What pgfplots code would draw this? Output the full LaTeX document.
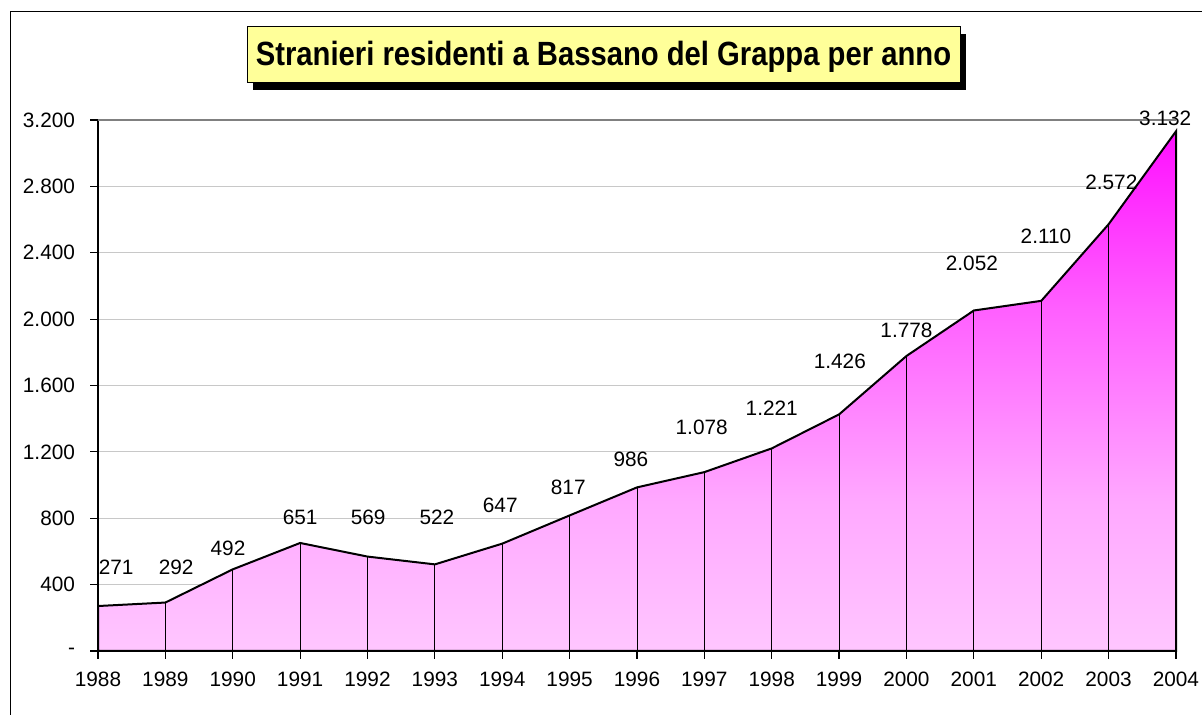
\documentclass[border=0pt]{standalone}
\usepackage{pgfplots}
\pgfplotsset{compat=1.18}
\usepackage{fontspec}
\setmainfont{Liberation Sans}
\definecolor{titlebg}{RGB}{255,255,153}
\definecolor{pinklo}{RGB}{255,198,255}
\definecolor{pinkm1}{RGB}{255,168,255}
\definecolor{pinkm2}{RGB}{255,96,255}
\definecolor{pinkhi}{RGB}{255,15,255}
\definecolor{gridc}{RGB}{200,200,200}
\pgfdeclareverticalshading{areashade}{100bp}{color(0bp)=(pinklo); color(25bp)=(pinklo); color(39.4bp)=(pinkm1); color(57.7bp)=(pinkm2); color(75bp)=(pinkhi); color(100bp)=(pinkhi)}
\begin{document}
\begin{tikzpicture}
\path[use as bounding box] (0,0) rectangle (601pt,357.5pt);
% outer frame (left and top edges visible)
\draw[black, line width=0.6pt] (5.3pt,0) -- (5.3pt,351.6pt) -- (601pt,351.6pt);
\begin{axis}[
  at={(49pt,32pt)}, anchor=south west,
  scale only axis, width=539pt, height=265.5pt,
  xmin=1988, xmax=2004, ymin=0, ymax=3200,
  clip=false,
  axis lines*=left,
  axis line style={black, line width=1pt},
  xtick={1988,...,2004},
  xticklabels={1988,1989,1990,1991,1992,1993,1994,1995,1996,1997,1998,1999,2000,2001,2002,2003,2004},
  ytick={0,400,...,3200},
  yticklabels={-,400,800,{1.200},{1.600},{2.000},{2.400},{2.800},{3.200}},
  tick align=outside,
  major tick length=4pt,
  tick style={black, line width=0.6pt},
  ymajorgrids,
  grid style={gridc, line width=0.5pt},
  ticklabel style={font=\fontsize{10.4}{12}\selectfont},
  yticklabel style={xshift=-4pt},
  xticklabel style={yshift=-3pt},
]
\addplot[draw=black, line width=1pt, shading=areashade, mark=none] coordinates {
(1988,271) (1989,292) (1990,492) (1991,651) (1992,569) (1993,522) (1994,647) (1995,817) (1996,986)
(1997,1078) (1998,1221) (1999,1426) (2000,1778) (2001,2052) (2002,2110) (2003,2572) (2004,3132)
} \closedcycle;
\addplot[ycomb, black, line width=0.5pt, mark=none] coordinates {
(1988,271) (1989,292) (1990,492) (1991,651) (1992,569) (1993,522) (1994,647) (1995,817) (1996,986)
(1997,1078) (1998,1221) (1999,1426) (2000,1778) (2001,2052) (2002,2110) (2003,2572) (2004,3132)
};
\draw[gray, line width=1pt] (axis cs:1988,3200) -- (axis cs:2004,3200);
\addplot[draw=none, mark=none, nodes near coords, point meta=explicit symbolic,
  nodes near coords style={anchor=center, inner sep=0pt, font=\fontsize{10.4}{12}\selectfont}]
  table[meta=lab] {
x y lab
1988.27 506 271
1989.16 506 292
1989.93 621 492
1991.00 808 651
1992.01 808 569
1993.03 808 522
1993.97 880 647
1994.98 988 817
1995.91 1157 986
1996.96 1350 1.078
1998.00 1464 1.221
1999.01 1748 1.426
2000.00 1934 1.778
2000.97 2338 2.052
2002.07 2501 2.110
2003.04 2826 2.572
2003.84 3212 3.132
};
\end{axis}
% title box with shadow
\fill[black] (126.5pt,312.5pt) rectangle (483pt,340.5pt);
\filldraw[fill=titlebg, draw=black, line width=0.5pt] (123.5pt,316pt) rectangle (480pt,344pt);
\node[anchor=base, inner sep=0pt] at (301.75pt,324.5pt) {\scalebox{0.87}[1]{\bfseries\fontsize{16.8}{19}\selectfont Stranieri residenti a Bassano del Grappa per anno}};
\end{tikzpicture}
\end{document}
